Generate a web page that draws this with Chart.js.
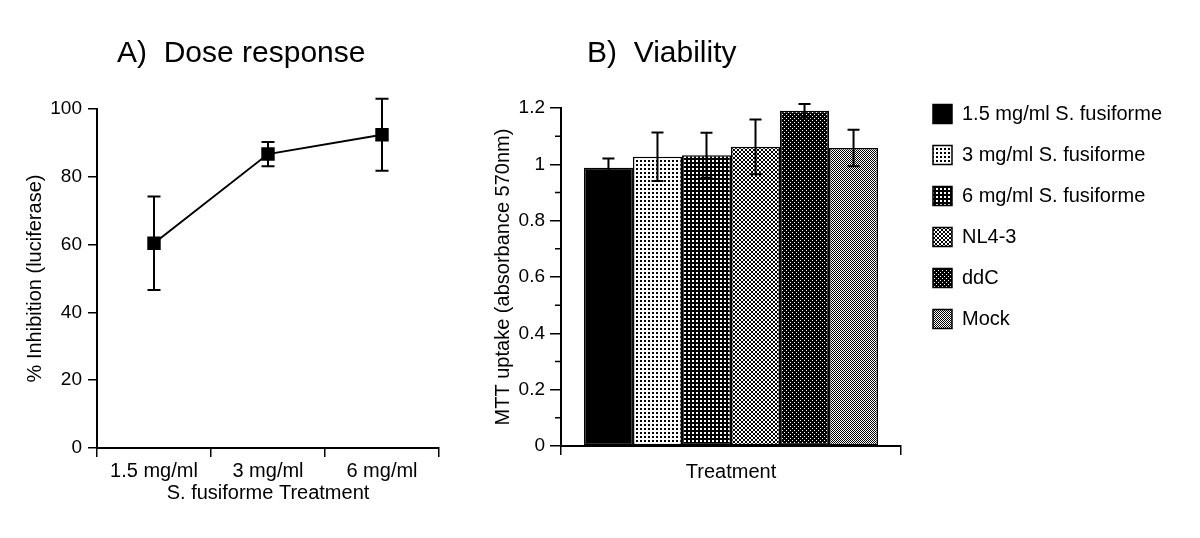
<!DOCTYPE html>
<html>
<head>
<meta charset="utf-8">
<script src="https://cdn.jsdelivr.net/npm/chart.js@4/dist/chart.umd.min.js"></script>
<style>
  body { margin: 0; background: #fff; width: 1200px; height: 538px; overflow: hidden; position: relative; }
  canvas { position: absolute; top: 0; }
  #chartA { left: 0; }
  #chartB { left: 480px; }
</style>
</head>
<body>
<canvas id="chartA" width="480" height="538"></canvas>
<canvas id="chartB" width="720" height="538"></canvas>
<script>
// A) dose response
const doseLabels = ["1.5 mg/ml", "3 mg/ml", "6 mg/ml"];
const doseInhibition = [60.4, 86.7, 92.4];
const doseErr = [13.8, 3.6, 10.6];

// B) viability
const treatLabels = ["1.5 mg/ml S. fusiforme", "3 mg/ml S. fusiforme", "6 mg/ml S. fusiforme", "NL4-3", "ddC", "Mock"];
const mttUptake = [0.988, 1.027, 1.032, 1.062, 1.190, 1.058];
const mttErr = [0.033, 0.086, 0.080, 0.097, 0.024, 0.065];
const mttMinorTicks = [0.1, 0.3, 0.5, 0.7, 0.9, 1.1];

const FONT = '"Liberation Sans", Arial, Helvetica, sans-serif';
Chart.defaults.font.family = FONT;
Chart.defaults.color = "#000";

// little fill patterns like the old greyscale bar fills
function makePattern(size, bg, fg, cells) {
  const c = document.createElement("canvas");
  c.width = c.height = size;
  const g = c.getContext("2d");
  g.fillStyle = bg;
  g.fillRect(0, 0, size, size);
  g.fillStyle = fg;
  cells.forEach(([x, y, w, h]) => g.fillRect(x, y, w || 1, h || 1));
  return g.createPattern(c, "repeat");
}

const fills = [
  "#000",
  makePattern(4, "#fff", "#000", [[0, 0, 2, 2]]),
  makePattern(4, "#000", "#fff", [[0, 0, 2, 2]]),
  makePattern(4, "#fff", "#000", [[0, 0], [1, 1], [2, 2], [3, 3], [3, 0], [2, 1], [1, 2], [0, 3]]),
  makePattern(4, "#000", "#fff", [[0, 0], [2, 2]]),
  makePattern(2, "#fff", "#000", [[0, 0], [1, 1]]),
];

function drawErrors(chart, o) {
  const ctx = chart.ctx;
  const y = chart.scales.y;
  ctx.save();
  ctx.strokeStyle = "#000";
  ctx.lineWidth = o.lineWidth;
  chart.data.datasets.forEach((ds, i) => {
    chart.getDatasetMeta(i).data.forEach((el, j) => {
      const v = ds.data[j];
      const e = o.errors[i][j];
      const x = el.x;
      const yt = y.getPixelForValue(v + e);
      const yb = y.getPixelForValue(v - e);
      const h = o.cap / 2;
      ctx.beginPath();
      ctx.moveTo(x, yt); ctx.lineTo(x, yb);
      ctx.moveTo(x - h, yt); ctx.lineTo(x + h, yt);
      ctx.moveTo(x - h, yb); ctx.lineTo(x + h, yb);
      ctx.stroke();
    });
  });
  ctx.restore();
}

const errorBars = {
  id: "errorBars",
  beforeDatasetsDraw(chart, args, o) { if (o.behind) drawErrors(chart, o); },
  afterDatasetsDraw(chart, args, o) { if (!o.behind) drawErrors(chart, o); },
};

const panelTitle = {
  id: "panelTitle",
  afterDraw(chart, args, o) {
    const ctx = chart.ctx;
    ctx.save();
    ctx.font = "30px " + FONT;
    ctx.fillStyle = "#000";
    ctx.textBaseline = "alphabetic";
    ctx.fillText(o.text, o.x, o.y);
    ctx.restore();
  },
};

const minorTicks = {
  id: "minorTicks",
  afterDraw(chart, args, o) {
    const ctx = chart.ctx;
    const y = chart.scales.y;
    const left = chart.chartArea.left;
    ctx.save();
    ctx.strokeStyle = "#000";
    ctx.lineWidth = 1.5;
    ctx.beginPath();
    o.values.forEach((v) => {
      const py = y.getPixelForValue(v);
      ctx.moveTo(left - o.length, py);
      ctx.lineTo(left, py);
    });
    ctx.stroke();
    ctx.restore();
  },
};

// the layout caps the right legend at a quarter of the canvas, so widen it
// again after layout and move it up/right to where the original had it
const legendNudge = {
  id: "legendNudge",
  afterLayout(chart, args, o) {
    const lg = chart.legend;
    lg.left += o.dx;
    lg.top += o.dy;
    lg.bottom += o.dy;
    lg.width = o.width;
    lg.right = lg.left + o.width;
  },
};

const axisGrid = { drawOnChartArea: false, color: "#000", lineWidth: 1.5, tickColor: "#000" };

new Chart(document.getElementById("chartA"), {
  type: "line",
  data: {
    labels: doseLabels,
    datasets: [{
      data: doseInhibition,
      borderColor: "#000",
      borderWidth: 2,
      pointStyle: "rect",
      pointRadius: 9.5,
      pointBackgroundColor: "#000",
      pointBorderWidth: 0,
      tension: 0,
    }],
  },
  options: {
    responsive: false,
    animation: false,
    devicePixelRatio: 1,
    layout: { padding: { top: 109, right: 41, bottom: 0, left: 0 } },
    plugins: {
      legend: { display: false },
      tooltip: { enabled: false },
      errorBars: { errors: [doseErr], cap: 13, lineWidth: 2, behind: true },
      panelTitle: { text: "A)  Dose response", x: 117, y: 62 },
    },
    scales: {
      x: {
        offset: true,
        grid: { ...axisGrid, offset: true, tickLength: 9 },
        border: { color: "#000", width: 2 },
        ticks: { font: { size: 20 }, padding: 2 },
        title: { display: true, text: "S. fusiforme Treatment", font: { size: 20 }, padding: { top: 0, bottom: 33 } },
        afterFit(s) { s.height = 90; },
      },
      y: {
        min: 0,
        max: 100,
        ticks: { stepSize: 20, font: { size: 19 }, padding: 6 },
        grid: { ...axisGrid, tickLength: 9 },
        border: { color: "#000", width: 2 },
        title: { display: true, text: "% Inhibition (luciferase)", font: { size: 20 }, padding: { top: 23, bottom: 0 } },
        afterFit(s) { s.width = 97; },
      },
    },
  },
  plugins: [errorBars, panelTitle],
});

new Chart(document.getElementById("chartB"), {
  type: "bar",
  data: {
    labels: ["Treatment"],
    datasets: treatLabels.map((name, i) => ({
      label: name,
      data: [mttUptake[i]],
      backgroundColor: fills[i],
      borderColor: "#000",
      borderWidth: 1.5,
      borderSkipped: false,
      barPercentage: 1,
      categoryPercentage: 0.865,
    })),
  },
  options: {
    responsive: false,
    animation: false,
    devicePixelRatio: 1,
    layout: { padding: { top: 108, right: 158.67, bottom: 0, left: 0 } },
    plugins: {
      tooltip: { enabled: false },
      legend: {
        position: "right",
        align: "start",
        labels: { boxWidth: 19, boxHeight: 19, padding: 21, font: { size: 20 }, color: "#000" },
      },
      legendNudge: { dx: 11, dy: -25, width: 280 },
      errorBars: { errors: mttErr.map((e) => [e]), cap: 12, lineWidth: 2, behind: false },
      minorTicks: { values: mttMinorTicks, length: 6 },
      panelTitle: { text: "B)  Viability", x: 107, y: 62 },
    },
    scales: {
      x: {
        offset: true,
        grid: { ...axisGrid, offset: true, tickLength: 9 },
        border: { color: "#000", width: 2 },
        ticks: { font: { size: 20 }, padding: 5 },
        afterFit(s) { s.height = 92; },
      },
      y: {
        min: 0,
        max: 1.2,
        ticks: { stepSize: 0.2, font: { size: 19 }, padding: 5, callback: (v) => String(Number(v.toFixed(1))) },
        grid: { ...axisGrid, tickLength: 11 },
        border: { color: "#000", width: 2 },
        title: { display: true, text: "MTT uptake (absorbance 570nm)", font: { size: 20 }, padding: { top: 11, bottom: 0 } },
        afterFit(s) { s.width = 81; },
      },
    },
  },
  plugins: [errorBars, minorTicks, legendNudge, panelTitle],
});
</script>
</body>
</html>
